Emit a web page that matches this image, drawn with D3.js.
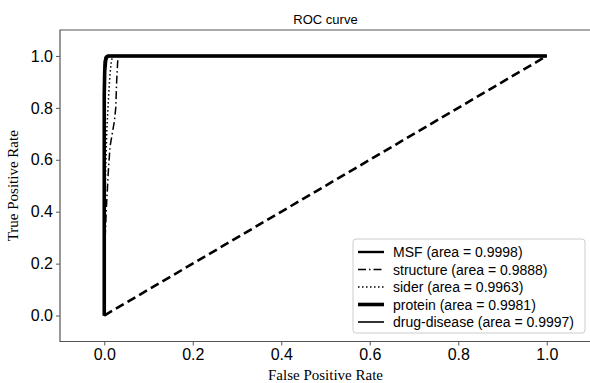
<!DOCTYPE html>
<html lang="en">
<head>
    <meta charset="UTF-8">
    <title>ROC curve</title>
    <script src="https://cdn.jsdelivr.net/npm/d3@7"></script>
    <style>
        body { margin: 0; background: white; }
        svg { display: block; }
    </style>
</head>
<body>
    <svg id="chart" width="590" height="383"></svg>
    <script type="text/javascript">

        // ROC points
        const msfFpr = [0, 0, 0.001, 0.003, 0.006, 1]
        const msfTpr = [0, 0.92, 0.98, 0.995, 1, 1]

        const structureFpr = [0, 0.002, 0.005, 0.009, 0.013, 0.018, 0.023, 0.026, 0.028, 0.031, 1]
        const structureTpr = [0, 0.3, 0.42, 0.55, 0.65, 0.7, 0.75, 0.8, 0.9, 1, 1]

        const siderFpr = [0, 0.001, 0.003, 0.006, 0.01, 0.013, 0.016, 0.019, 1]
        const siderTpr = [0, 0.3, 0.55, 0.72, 0.85, 0.93, 0.98, 1, 1]

        const proteinFpr = [0, 0, 0.001, 0.003, 0.005, 0.009, 1]
        const proteinTpr = [0, 0.85, 0.94, 0.98, 0.995, 1, 1]

        const ddFpr = [0, 0, 0.002, 0.004, 0.008, 1]
        const ddTpr = [0, 0.9, 0.97, 0.99, 1, 1]

        const names = ['MSF', 'structure', 'sider', 'protein', 'drug-disease']
        const areas = ['0.9998', '0.9888', '0.9963', '0.9981', '0.9997']

        const xTicks = [0, 0.2, 0.4, 0.6, 0.8, 1.0]
        const yTicks = [0, 0.2, 0.4, 0.6, 0.8, 1.0]

        const styles = [
            { w: 2.4, dash: null },
            { w: 1.5, dash: '8,3,1.5,3' },
            { w: 1.5, dash: '1.5,2.5' },
            { w: 3.6, dash: null },
            { w: 1.6, dash: null }
        ]

        const series = [
            [msfFpr, msfTpr],
            [structureFpr, structureTpr],
            [siderFpr, siderTpr],
            [proteinFpr, proteinTpr],
            [ddFpr, ddTpr]
        ]

        const svg = d3.select('#chart')
        const mLeft = 60, mRight = 591, mTop = 30, mBottom = 341.5

        const x = d3.scaleLinear().domain([-0.1, 1.1]).range([mLeft, mRight])
        const y = d3.scaleLinear().domain([-0.1, 1.1]).range([mBottom, mTop])

        const sans = 'Liberation Sans, Arial, sans-serif'
        const serif = 'Liberation Serif, Times New Roman, serif'

        // title
        svg.append('text')
            .attr('x', (mLeft + mRight) / 2)
            .attr('y', 24)
            .attr('text-anchor', 'middle')
            .style('font-family', sans)
            .style('font-size', '13px')
            .text('ROC curve')

        const line = d3.line().x(d => x(d[0])).y(d => y(d[1]))

        // chance diagonal
        svg.append('path')
            .attr('d', line([[0, 0], [1, 1]]))
            .attr('fill', 'none')
            .attr('stroke', 'black')
            .attr('stroke-width', 2.6)
            .attr('stroke-dasharray', '9,4.5')

        series.forEach((s, i) => {
            const pts = s[0].map((v, j) => [v, s[1][j]])
            svg.append('path')
                .attr('d', line(pts))
                .attr('fill', 'none')
                .attr('stroke', 'black')
                .attr('stroke-width', styles[i].w)
                .attr('stroke-linejoin', 'round')
                .attr('stroke-dasharray', styles[i].dash)
        })

        // axes
        const xAxis = svg.append('g')
            .attr('transform', `translate(0,${mBottom})`)
            .call(d3.axisBottom(x).tickValues(xTicks).tickFormat(d3.format('.1f')).tickSize(4).tickPadding(3))
        const yAxis = svg.append('g')
            .attr('transform', `translate(${mLeft},0)`)
            .call(d3.axisLeft(y).tickValues(yTicks).tickFormat(d3.format('.1f')).tickSize(4).tickPadding(3))

        for (const g of [xAxis, yAxis]) {
            g.select('.domain').remove()
            g.selectAll('line').attr('stroke', '#444').attr('stroke-width', 0.9)
            g.selectAll('text')
                .style('font-family', sans)
                .style('font-size', '16px')
                .attr('fill', 'black')
        }

        // spines (right one falls off the picture)
        svg.append('path')
            .attr('d', `M${mRight + 1},${mTop}H${mLeft}V${mBottom}H${mRight + 1}`)
            .attr('fill', 'none')
            .attr('stroke', '#555')
            .attr('stroke-width', 1.2)

        svg.append('text')
            .attr('x', x(0.5))
            .attr('y', 380)
            .attr('text-anchor', 'middle')
            .style('font-family', serif)
            .style('font-size', '15px')
            .text('False Positive Rate')

        svg.append('text')
            .attr('transform', `translate(18,${(mTop + mBottom) / 2}) rotate(-90)`)
            .attr('text-anchor', 'middle')
            .style('font-family', serif)
            .style('font-size', '15px')
            .text('True Positive Rate')

        // legend
        const leg = svg.append('g').attr('transform', 'translate(353,239)')
        leg.append('rect')
            .attr('width', 232)
            .attr('height', 94)
            .attr('rx', 3)
            .attr('fill', 'white')
            .attr('fill-opacity', 0.85)
            .attr('stroke', '#ccc')
            .attr('stroke-width', 1)

        names.forEach((n, i) => {
            const yy = 13 + i * 17.5
            leg.append('line')
                .attr('x1', 5).attr('x2', 31)
                .attr('y1', yy).attr('y2', yy)
                .attr('stroke', 'black')
                .attr('stroke-width', styles[i].w)
                .attr('stroke-dasharray', styles[i].dash)
            leg.append('text')
                .attr('x', 40)
                .attr('y', yy + 5)
                .style('font-family', sans)
                .style('font-size', '14px')
                .text(`${n} (area = ${areas[i]})`)
        })

    </script>
</body>
</html>
